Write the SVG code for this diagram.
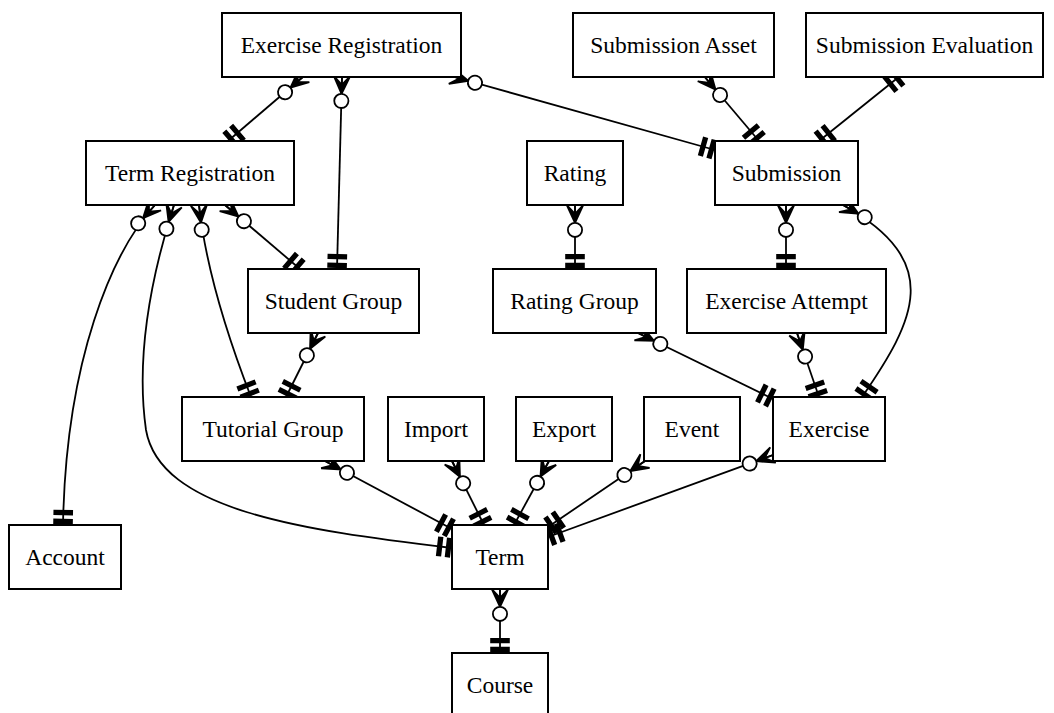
<svg xmlns="http://www.w3.org/2000/svg" width="1054" height="713" viewBox="0 0 1054 713">
  <style>
    .node rect { fill: #ffffff; stroke: #000000; stroke-width: 2; }
    .node text { font-family: "Liberation Serif", "Times New Roman", serif; font-size: 23.5px; text-anchor: middle; fill: #000000; }
    .edges path { fill: none; stroke: #000000; stroke-width: 1.8; }
    .rel { marker-start: url(#many); marker-end: url(#one); }
    .rel11 { marker-start: url(#one-start); marker-end: url(#one); }
  </style>
  <defs>
    <!-- zero-or-many: crow foot at the entity, open circle behind it (path start, line runs along +x) -->
    <marker id="many" markerUnits="userSpaceOnUse" orient="auto" viewBox="-2 -12 36 24" refX="0" refY="0" markerWidth="36" markerHeight="24">
      <polygon points="17.8,0 0,-8.2 8.9,0 0,0 8.9,0 0,8.2" fill="#000000" stroke="#000000" stroke-width="1.8"/>
      <circle cx="24.9" cy="0" r="7.1" fill="#ffffff" stroke="#000000" stroke-width="1.8"/>
    </marker>
    <!-- exactly-one: two bars at the entity (path end, line runs along -x) -->
    <marker id="one" markerUnits="userSpaceOnUse" orient="auto" viewBox="-18 -12 20 24" refX="0" refY="0" markerWidth="20" markerHeight="24">
      <rect x="-5.3" y="-8.9" width="3.5" height="17.8" fill="#000000" stroke="#000000" stroke-width="1.8"/>
      <rect x="-14.2" y="-8.9" width="3.5" height="17.8" fill="#000000" stroke="#000000" stroke-width="1.8"/>
    </marker>
    <!-- exactly-one at a path start (line runs along +x) -->
    <marker id="one-start" markerUnits="userSpaceOnUse" orient="auto" viewBox="-2 -12 20 24" refX="0" refY="0" markerWidth="20" markerHeight="24">
      <rect x="1.8" y="-8.9" width="3.5" height="17.8" fill="#000000" stroke="#000000" stroke-width="1.8"/>
      <rect x="10.7" y="-8.9" width="3.5" height="17.8" fill="#000000" stroke="#000000" stroke-width="1.8"/>
    </marker>
  </defs>

  <g id="connectors" class="edges">
    <path id="e-exreg-termreg" class="rel" d="M304,76 L228,141"/>
    <path id="e-exreg-studgroup" class="rel" d="M342,76 L337,269"/>
    <path id="e-exreg-submission" class="rel" d="M451,76 L715,150"/>
    <path id="e-subasset-submission" class="rel" d="M704,76 L759,141"/>
    <path id="e-subeval-submission" class="rel11" d="M900,76 L819,141"/>
    <path id="e-termreg-account" class="rel" d="M155,205 C112,252 66,360 63,525"/>
    <path id="e-termreg-term" class="rel" d="M174,205 C150,280 136,360 146,430 C160,510 300,530 452,548"/>
    <path id="e-termreg-tutgroup" class="rel" d="M199,205 C205,260 225,330 251,397"/>
    <path id="e-termreg-studgroup" class="rel" d="M225,205 L300,269"/>
    <path id="e-studgroup-tutgroup" class="rel" d="M318,333 L286,397"/>
    <path id="e-rating-ratinggroup" class="rel" d="M575,205 L575,269"/>
    <path id="e-submission-attempt" class="rel" d="M786,205 L786,269"/>
    <path id="e-submission-exercise" class="rel" d="M843,205 C945,262 915,320 862,397"/>
    <path id="e-ratinggroup-exercise" class="rel" d="M638,333 L773,399"/>
    <path id="e-attempt-exercise" class="rel" d="M797,333 L819,397"/>
    <path id="e-tutgroup-term" class="rel" d="M325,461 L452,529"/>
    <path id="e-import-term" class="rel" d="M452,461 L484,525"/>
    <path id="e-export-term" class="rel" d="M549,461 L514,525"/>
    <path id="e-event-term" class="rel" d="M645,461 L548,527"/>
    <path id="e-exercise-term" class="rel" d="M773,455 L548,537"/>
    <path id="e-term-course" class="rel" d="M500,589 L500,653"/>
  </g>

  <g id="exercise-registration" class="node"><rect x="222" y="13" width="239" height="64"/><text x="341.5" y="53">Exercise Registration</text></g>
  <g id="submission-asset" class="node"><rect x="573" y="13" width="201" height="64"/><text x="673.5" y="53">Submission Asset</text></g>
  <g id="submission-evaluation" class="node"><rect x="806" y="13" width="237" height="64"/><text x="924.5" y="53">Submission Evaluation</text></g>

  <g id="term-registration" class="node"><rect x="86" y="141" width="208" height="64"/><text x="190" y="181">Term Registration</text></g>
  <g id="rating" class="node"><rect x="527" y="141" width="96" height="64"/><text x="575" y="181">Rating</text></g>
  <g id="submission" class="node"><rect x="715" y="141" width="143" height="64"/><text x="786.5" y="181">Submission</text></g>

  <g id="student-group" class="node"><rect x="248" y="269" width="171" height="64"/><text x="333.5" y="309">Student Group</text></g>
  <g id="rating-group" class="node"><rect x="493" y="269" width="163" height="64"/><text x="574.5" y="309">Rating Group</text></g>
  <g id="exercise-attempt" class="node"><rect x="687" y="269" width="199" height="64"/><text x="786.5" y="309">Exercise Attempt</text></g>

  <g id="tutorial-group" class="node"><rect x="182" y="397" width="182" height="64"/><text x="273" y="437">Tutorial Group</text></g>
  <g id="import" class="node"><rect x="388" y="397" width="96" height="64"/><text x="436" y="437">Import</text></g>
  <g id="export" class="node"><rect x="516" y="397" width="96" height="64"/><text x="564" y="437">Export</text></g>
  <g id="event" class="node"><rect x="644" y="397" width="96" height="64"/><text x="692" y="437">Event</text></g>
  <g id="exercise" class="node"><rect x="773" y="397" width="112" height="64"/><text x="829" y="437">Exercise</text></g>

  <g id="account" class="node"><rect x="9" y="525" width="112" height="64"/><text x="65" y="565">Account</text></g>
  <g id="term" class="node"><rect x="452" y="525" width="96" height="64"/><text x="500" y="565">Term</text></g>

  <g id="course" class="node"><rect x="452" y="653" width="96" height="64"/><text x="500" y="693">Course</text></g>
</svg>
